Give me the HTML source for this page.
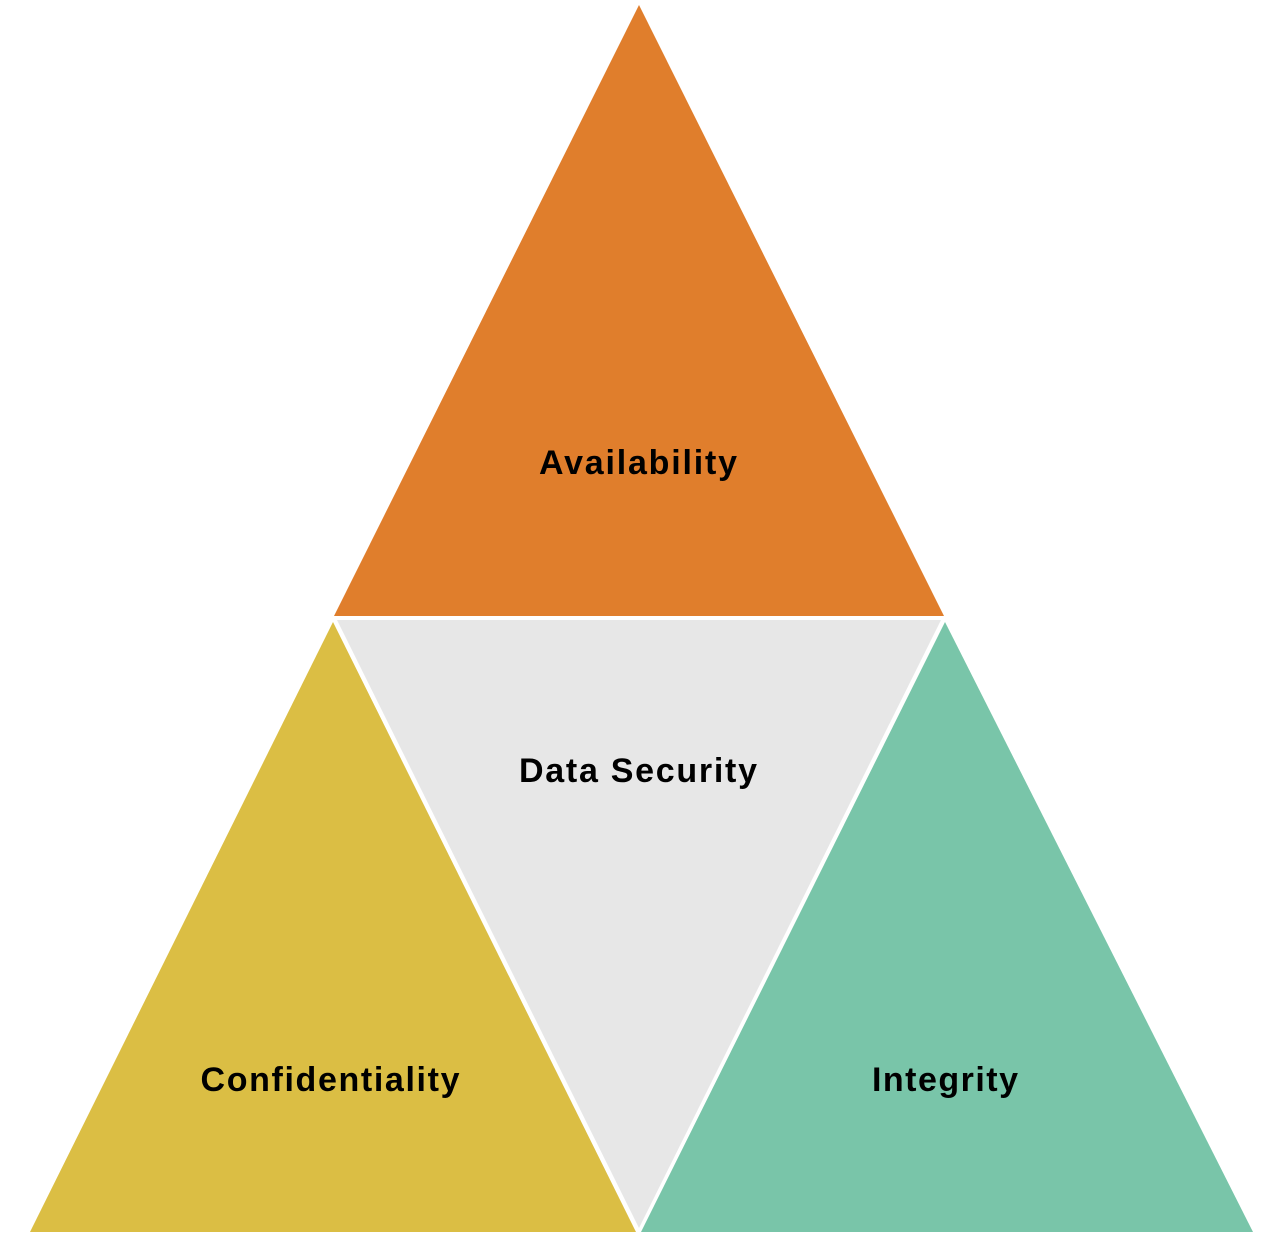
<!DOCTYPE html>
<html><head><style>
html,body{margin:0;padding:0;background:#fff;}
svg{display:block;}
text{font-family:"Liberation Sans",sans-serif;font-weight:bold;font-size:34px;fill:#000;text-anchor:middle;}
</style></head><body>
<svg width="1275" height="1237" viewBox="0 0 1275 1237">
<polygon points="639,5 334,616 944,616" fill="#E07E2C"/>
<polygon points="333,622 30,1232 636,1232" fill="#DBBE44"/>
<polygon points="945,622 641,1232 1253,1232" fill="#79C5A9"/>
<polygon points="337,620 941,620 639,1228" fill="#E7E7E7"/>
<text x="638" y="474" textLength="198" lengthAdjust="spacing">Availability</text>
<text x="638" y="782" textLength="238" lengthAdjust="spacing">Data Security</text>
<text x="330" y="1091" textLength="259" lengthAdjust="spacing">Confidentiality</text>
<text x="945" y="1091" textLength="146" lengthAdjust="spacing">Integrity</text>
</svg>
</body></html>
